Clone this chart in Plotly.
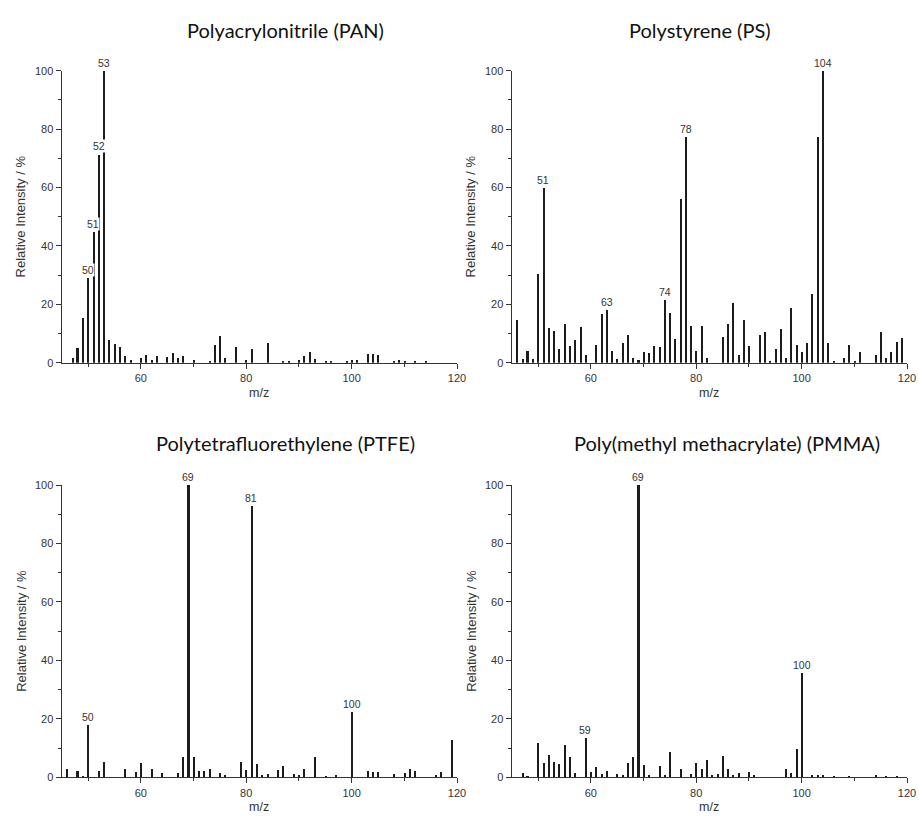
import plotly.graph_objects as go

# ---------------- data ----------------
pan_mz = [47, 48, 49, 50, 51, 52, 53, 54, 55, 56, 57, 58, 60, 61, 62, 63, 65, 66, 67, 68, 70,
          73, 74, 75, 76, 78, 80, 81, 84, 87, 88, 90, 91, 92, 93, 95, 96, 99, 100, 101,
          103, 104, 105, 108, 109, 110, 112, 114]
pan_int = [1.8, 5.1, 15.5, 29.1, 44.9, 71.3, 100, 8.0, 6.6, 5.5, 2.3, 0.9, 1.8, 2.9, 1.1, 2.3, 2.0, 3.5, 1.8, 2.4, 0.9,
           0.7, 6.3, 9.1, 1.8, 5.5, 0.9, 4.9, 6.8, 0.7, 0.5, 0.9, 2.3, 3.6, 1.4, 0.5, 0.5, 0.7, 1.1, 0.9,
           3.0, 3.0, 2.9, 0.7, 1.1, 0.5, 0.5, 0.4]
pan_labels = [50, 51, 52, 53]

ps_mz = [46, 47, 48, 49, 50, 51, 52, 53, 54, 55, 56, 57, 58, 59, 61, 62, 63, 64, 65, 66, 67, 68, 69, 70,
         71, 72, 73, 74, 75, 76, 77, 78, 79, 80, 81, 82, 85, 86, 87, 88, 89, 90, 92, 93, 94, 95, 96, 97,
         98, 99, 100, 101, 102, 103, 104, 105, 106, 108, 109, 110, 111, 114, 115, 116, 117, 118, 119]
ps_int = [14.8, 1.5, 4.0, 1.4, 30.6, 59.9, 12.1, 10.8, 4.8, 13.5, 5.8, 7.8, 12.4, 2.6, 6.2, 16.7, 18.2, 4.0, 1.4, 6.7, 9.5, 1.8, 1.1, 3.9,
          3.4, 5.9, 5.6, 21.5, 17.1, 8.3, 56.0, 77.4, 12.7, 4.0, 12.6, 1.8, 8.9, 13.2, 20.7, 2.9, 14.8, 5.9, 9.5, 10.7, 0.5, 4.9, 11.6, 1.8,
          19.0, 6.2, 3.9, 6.7, 23.5, 77.4, 100, 6.7, 0.5, 1.8, 6.3, 0.5, 3.9, 2.9, 10.6, 1.8, 3.9, 7.1, 8.4]
ps_labels = [51, 63, 74, 78, 104]

ptfe_mz = [46, 48, 49, 50, 52, 53, 57, 59, 60, 62, 64, 67, 68, 69, 70, 71, 72, 73, 75, 76, 79, 80, 81, 82,
           83, 84, 86, 87, 89, 90, 91, 93, 95, 97, 100, 103, 104, 105, 108, 110, 111, 112, 116, 117, 119]
ptfe_int = [2.7, 2.1, 0.5, 17.8, 2.1, 5.4, 3.0, 1.8, 5.0, 3.0, 1.6, 1.4, 6.8, 100, 7.1, 2.3, 2.1, 2.7, 1.6, 0.7, 5.4, 2.5, 92.8, 4.6,
            0.8, 1.1, 2.5, 3.8, 1.1, 0.7, 2.7, 6.8, 0.5, 0.7, 22.5, 2.3, 1.9, 1.8, 1.1, 1.6, 2.7, 2.1, 0.7, 1.8, 12.8]
ptfe_labels = [50, 69, 81, 100]

pmma_mz = [47, 48, 50, 51, 52, 53, 54, 55, 56, 57, 59, 60, 61, 62, 63, 65, 66, 67, 68, 69, 70, 71, 73, 74, 75,
           77, 79, 80, 81, 82, 83, 84, 85, 86, 87, 88, 90, 91, 97, 98, 99, 100, 102, 103, 104, 106, 109,
           114, 116, 118]
pmma_int = [1.4, 0.5, 11.9, 4.8, 7.6, 5.4, 4.4, 10.9, 7.0, 1.4, 13.5, 1.8, 3.6, 1.1, 2.3, 1.1, 0.9, 4.8, 6.8, 100, 4.1, 0.7, 3.9, 0.9, 8.6,
            3.0, 1.1, 4.8, 2.9, 5.9, 0.9, 1.1, 7.3, 2.7, 0.7, 1.6, 1.8, 0.7, 2.7, 1.4, 9.6, 35.6, 0.9, 0.7, 0.9, 0.5, 0.5,
            0.7, 0.5, 0.5]
pmma_labels = [59, 69, 100]

titles = ["Polyacrylonitrile (PAN)", "Polystyrene (PS)",
          "Polytetrafluorethylene (PTFE)", "Poly(methyl methacrylate) (PMMA)"]
x_ticks = [60, 80, 100, 120]
y_ticks = [0, 20, 40, 60, 80, 100]

# ---------------- layout geometry (px) ----------------
W, H = 919, 824
x_dom_px = [(61.7, 457.0), (511.7, 907.0)]
y_dom_px = [(70.7, 362.7), (485.0, 777.3)]   # (top, bottom)
title_pos = [(285, 30), (700, 30), (285, 443), (727, 443)]

panels = [
    (pan_mz, pan_int, pan_labels, 0, 0),
    (ps_mz, ps_int, ps_labels, 1, 0),
    (ptfe_mz, ptfe_int, ptfe_labels, 0, 1),
    (pmma_mz, pmma_int, pmma_labels, 1, 1),
]

fig = go.Figure()
bar_color = "#1c1c1c"
axis_color = "#333333"
text_color = "#333333"
tick_font = dict(family="Liberation Sans, Arial, sans-serif", size=11, color=text_color)

for i, (mz, inten, labels, col, row) in enumerate(panels):
    n = "" if i == 0 else str(i + 1)
    xa, ya = "x" + n, "y" + n
    fig.add_trace(go.Bar(x=mz, y=inten, width=0.38,
                         marker=dict(color=bar_color, line=dict(width=0)),
                         xaxis=xa, yaxis=ya, showlegend=False, hoverinfo="x+y"))
    x0, x1 = x_dom_px[col]
    yt, yb = y_dom_px[row]
    axis_common = dict(showgrid=False, zeroline=False, showline=True, linecolor=axis_color,
                       linewidth=1.3, ticks="outside", tickcolor=axis_color, tickwidth=1.2,
                       ticklen=5, tickfont=tick_font, automargin=False,
                       ticklabeloverflow="allow",
                       minor=dict(ticks="outside", ticklen=3, tickcolor=axis_color, tickwidth=1.2))
    fig.layout["xaxis" + n] = dict(domain=[x0 / W, x1 / W], range=[45, 120],
                                  tickvals=x_ticks, anchor=ya,
                                  minor_dtick=10, minor_tick0=0, **axis_common)
    fig.layout["yaxis" + n] = dict(domain=[1 - yb / H, 1 - yt / H], range=[0, 100],
                                  tickvals=y_ticks, anchor=xa,
                                  minor_dtick=10, minor_tick0=0, **axis_common)
    # peak labels
    for lab in labels:
        v = inten[mz.index(lab)]
        fig.add_annotation(x=lab, y=v, xref=xa, yref=ya, text=str(lab), showarrow=False,
                           yanchor="bottom", xanchor="center", yshift=1,
                           bgcolor="white", borderpad=0,
                           font=dict(family="Liberation Sans, Arial, sans-serif", size=10.5,
                                     color=text_color))
    # panel title
    tx, ty = title_pos[i]
    fig.add_annotation(x=tx / W, y=1 - ty / H, xref="paper", yref="paper", text=titles[i],
                       showarrow=False, xanchor="center", yanchor="middle",
                       font=dict(family="Lato, Open Sans, sans-serif", size=20, color="#111111"))
    # axis titles
    fig.add_annotation(x=(x0 - 41) / W, y=1 - (yt + yb) / 2 / H, xref="paper", yref="paper",
                       text="Relative Intensity / %", textangle=-90, showarrow=False,
                       xanchor="center", yanchor="middle",
                       font=dict(family="Liberation Sans, Arial, sans-serif", size=13, color=text_color))
    fig.add_annotation(x=(x0 + x1) / 2 / W, y=1 - (yb + 30) / H, xref="paper", yref="paper",
                       text="m/z", showarrow=False, xanchor="center", yanchor="middle",
                       font=dict(family="Liberation Sans, Arial, sans-serif", size=12.5, color=text_color))

fig.update_layout(width=W, height=H, margin=dict(l=0, r=0, t=0, b=0),
                  paper_bgcolor="white", plot_bgcolor="white", bargap=0)

fig.write_html("out.html", config={"displayModeBar": False},
               post_script="document.body.style.margin='0px';document.body.style.overflow='hidden';")
